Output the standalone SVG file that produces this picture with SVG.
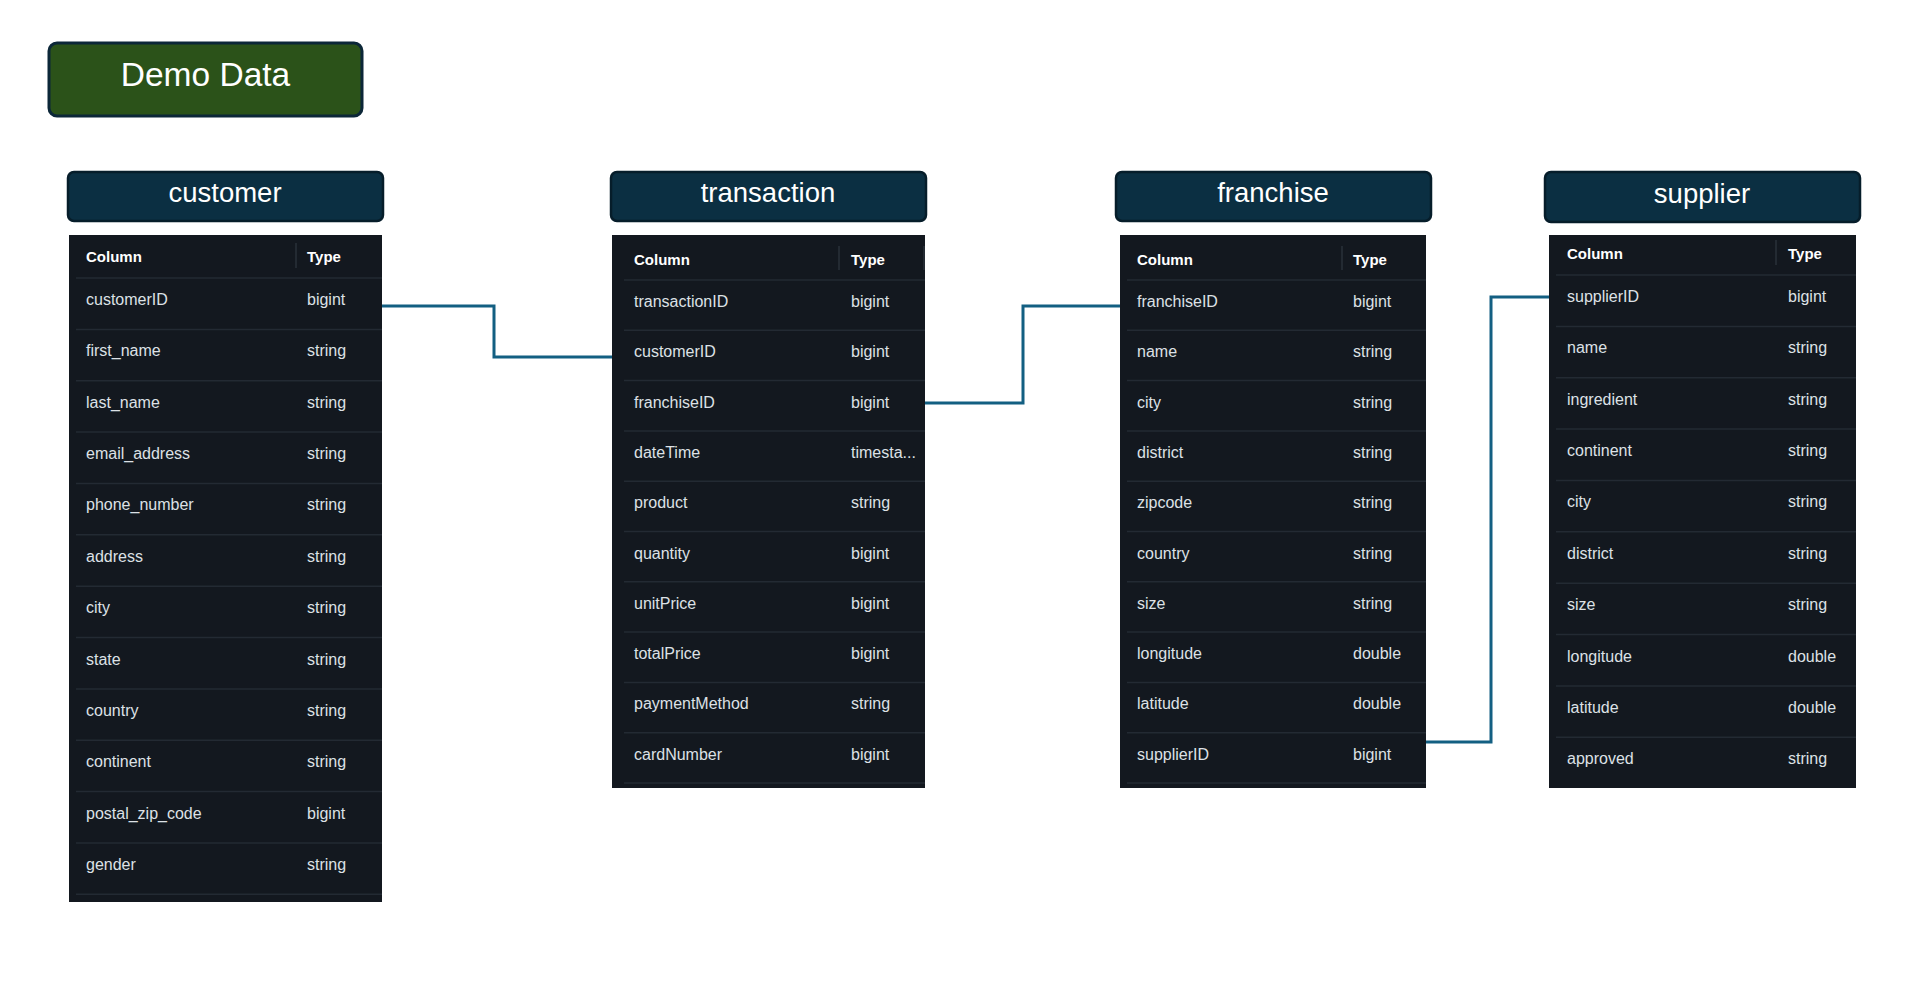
<svg xmlns="http://www.w3.org/2000/svg" width="1918" height="990" viewBox="0 0 1918 990">
<style>
.bg{fill:#ffffff}
.title{fill:#0b2f42;stroke:#061d2a;stroke-width:2.5}
.titletxt{font-family:"Liberation Sans",Arial,sans-serif;font-size:27.5px;fill:#ffffff;text-anchor:middle}
.tbl{fill:#13181f}
.sep{stroke:#232a33;stroke-width:1.5}
.csep{stroke:#2a313a;stroke-width:1.5}
.hd{font-family:"Liberation Sans",Arial,sans-serif;font-size:15px;font-weight:bold;fill:#ffffff}
.cell{font-family:"Liberation Sans",Arial,sans-serif;font-size:16px;fill:#dde1e6}
.conn{fill:none;stroke:#135f82;stroke-width:3}
</style>
<rect class="bg" x="0" y="0" width="1918" height="990"/>

<g id="demo-data">
<rect x="49" y="43" width="313" height="73" rx="8" fill="#2b5219" stroke="#0c2738" stroke-width="3"/>
<text x="205.5" y="86" font-family="'Liberation Sans',Arial,sans-serif" font-size="33.5" fill="#ffffff" text-anchor="middle">Demo Data</text>
</g>

<g id="customer">
<rect class="title" x="68" y="172" width="315" height="49" rx="6"/>
<text class="titletxt" x="225" y="202">customer</text>
<rect class="tbl" x="69" y="235" width="313" height="667"/>
<line class="csep" x1="296" y1="243" x2="296" y2="268"/>
<text class="hd" x="86" y="262">Column</text>
<text class="hd" x="307" y="262">Type</text>
<g class="sep">
<line x1="76" y1="278" x2="382" y2="278"/>
<line x1="76" y1="329.4" x2="382" y2="329.4"/>
<line x1="76" y1="380.7" x2="382" y2="380.7"/>
<line x1="76" y1="432.1" x2="382" y2="432.1"/>
<line x1="76" y1="483.4" x2="382" y2="483.4"/>
<line x1="76" y1="534.8" x2="382" y2="534.8"/>
<line x1="76" y1="586.2" x2="382" y2="586.2"/>
<line x1="76" y1="637.5" x2="382" y2="637.5"/>
<line x1="76" y1="688.9" x2="382" y2="688.9"/>
<line x1="76" y1="740.2" x2="382" y2="740.2"/>
<line x1="76" y1="791.6" x2="382" y2="791.6"/>
<line x1="76" y1="843" x2="382" y2="843"/>
<line x1="76" y1="894.3" x2="382" y2="894.3"/>
</g>
<text class="cell" x="86" y="305">customerID</text><text class="cell" x="307" y="305">bigint</text>
<text class="cell" x="86" y="356.4">first_name</text><text class="cell" x="307" y="356.4">string</text>
<text class="cell" x="86" y="407.7">last_name</text><text class="cell" x="307" y="407.7">string</text>
<text class="cell" x="86" y="459.1">email_address</text><text class="cell" x="307" y="459.1">string</text>
<text class="cell" x="86" y="510.4">phone_number</text><text class="cell" x="307" y="510.4">string</text>
<text class="cell" x="86" y="561.8">address</text><text class="cell" x="307" y="561.8">string</text>
<text class="cell" x="86" y="613.2">city</text><text class="cell" x="307" y="613.2">string</text>
<text class="cell" x="86" y="664.5">state</text><text class="cell" x="307" y="664.5">string</text>
<text class="cell" x="86" y="715.9">country</text><text class="cell" x="307" y="715.9">string</text>
<text class="cell" x="86" y="767.2">continent</text><text class="cell" x="307" y="767.2">string</text>
<text class="cell" x="86" y="818.6">postal_zip_code</text><text class="cell" x="307" y="818.6">bigint</text>
<text class="cell" x="86" y="870">gender</text><text class="cell" x="307" y="870">string</text>
</g>

<g id="transaction">
<rect class="title" x="611" y="172" width="315" height="49" rx="6"/>
<text class="titletxt" x="768" y="202">transaction</text>
<rect class="tbl" x="612" y="235" width="313" height="553"/>
<line class="csep" x1="839" y1="246" x2="839" y2="270"/>
<line class="csep" x1="924" y1="246" x2="924" y2="270"/>
<text class="hd" x="634" y="265">Column</text>
<text class="hd" x="851" y="265">Type</text>
<g class="sep">
<line x1="624" y1="280" x2="925" y2="280"/>
<line x1="624" y1="330.3" x2="925" y2="330.3"/>
<line x1="624" y1="380.6" x2="925" y2="380.6"/>
<line x1="624" y1="430.9" x2="925" y2="430.9"/>
<line x1="624" y1="481.2" x2="925" y2="481.2"/>
<line x1="624" y1="531.5" x2="925" y2="531.5"/>
<line x1="624" y1="581.8" x2="925" y2="581.8"/>
<line x1="624" y1="632.1" x2="925" y2="632.1"/>
<line x1="624" y1="682.4" x2="925" y2="682.4"/>
<line x1="624" y1="732.7" x2="925" y2="732.7"/>
<line x1="624" y1="783" x2="925" y2="783"/>
</g>
<text class="cell" x="634" y="307">transactionID</text><text class="cell" x="851" y="307">bigint</text>
<text class="cell" x="634" y="357.3">customerID</text><text class="cell" x="851" y="357.3">bigint</text>
<text class="cell" x="634" y="407.6">franchiseID</text><text class="cell" x="851" y="407.6">bigint</text>
<text class="cell" x="634" y="457.9">dateTime</text><text class="cell" x="851" y="457.9">timesta...</text>
<text class="cell" x="634" y="508.2">product</text><text class="cell" x="851" y="508.2">string</text>
<text class="cell" x="634" y="558.5">quantity</text><text class="cell" x="851" y="558.5">bigint</text>
<text class="cell" x="634" y="608.8">unitPrice</text><text class="cell" x="851" y="608.8">bigint</text>
<text class="cell" x="634" y="659.1">totalPrice</text><text class="cell" x="851" y="659.1">bigint</text>
<text class="cell" x="634" y="709.4">paymentMethod</text><text class="cell" x="851" y="709.4">string</text>
<text class="cell" x="634" y="759.7">cardNumber</text><text class="cell" x="851" y="759.7">bigint</text>
</g>

<g id="franchise">
<rect class="title" x="1116" y="172" width="315" height="49" rx="6"/>
<text class="titletxt" x="1273" y="202">franchise</text>
<rect class="tbl" x="1120" y="235" width="306" height="553"/>
<line class="csep" x1="1342" y1="246" x2="1342" y2="270"/>
<text class="hd" x="1137" y="265">Column</text>
<text class="hd" x="1353" y="265">Type</text>
<g class="sep">
<line x1="1127" y1="280" x2="1426" y2="280"/>
<line x1="1127" y1="330.3" x2="1426" y2="330.3"/>
<line x1="1127" y1="380.6" x2="1426" y2="380.6"/>
<line x1="1127" y1="430.9" x2="1426" y2="430.9"/>
<line x1="1127" y1="481.2" x2="1426" y2="481.2"/>
<line x1="1127" y1="531.5" x2="1426" y2="531.5"/>
<line x1="1127" y1="581.8" x2="1426" y2="581.8"/>
<line x1="1127" y1="632.1" x2="1426" y2="632.1"/>
<line x1="1127" y1="682.4" x2="1426" y2="682.4"/>
<line x1="1127" y1="732.7" x2="1426" y2="732.7"/>
<line x1="1127" y1="783" x2="1426" y2="783"/>
</g>
<text class="cell" x="1137" y="307">franchiseID</text><text class="cell" x="1353" y="307">bigint</text>
<text class="cell" x="1137" y="357.3">name</text><text class="cell" x="1353" y="357.3">string</text>
<text class="cell" x="1137" y="407.6">city</text><text class="cell" x="1353" y="407.6">string</text>
<text class="cell" x="1137" y="457.9">district</text><text class="cell" x="1353" y="457.9">string</text>
<text class="cell" x="1137" y="508.2">zipcode</text><text class="cell" x="1353" y="508.2">string</text>
<text class="cell" x="1137" y="558.5">country</text><text class="cell" x="1353" y="558.5">string</text>
<text class="cell" x="1137" y="608.8">size</text><text class="cell" x="1353" y="608.8">string</text>
<text class="cell" x="1137" y="659.1">longitude</text><text class="cell" x="1353" y="659.1">double</text>
<text class="cell" x="1137" y="709.4">latitude</text><text class="cell" x="1353" y="709.4">double</text>
<text class="cell" x="1137" y="759.7">supplierID</text><text class="cell" x="1353" y="759.7">bigint</text>
</g>

<g id="supplier">
<rect class="title" x="1545" y="172" width="315" height="50" rx="6"/>
<text class="titletxt" x="1702" y="203">supplier</text>
<rect class="tbl" x="1549" y="235" width="307" height="553"/>
<line class="csep" x1="1776" y1="240" x2="1776" y2="265"/>
<text class="hd" x="1567" y="259">Column</text>
<text class="hd" x="1788" y="259">Type</text>
<g class="sep">
<line x1="1556" y1="275" x2="1856" y2="275"/>
<line x1="1556" y1="326.4" x2="1856" y2="326.4"/>
<line x1="1556" y1="377.7" x2="1856" y2="377.7"/>
<line x1="1556" y1="429.1" x2="1856" y2="429.1"/>
<line x1="1556" y1="480.4" x2="1856" y2="480.4"/>
<line x1="1556" y1="531.8" x2="1856" y2="531.8"/>
<line x1="1556" y1="583.2" x2="1856" y2="583.2"/>
<line x1="1556" y1="634.5" x2="1856" y2="634.5"/>
<line x1="1556" y1="685.9" x2="1856" y2="685.9"/>
<line x1="1556" y1="737.2" x2="1856" y2="737.2"/>
</g>
<text class="cell" x="1567" y="302">supplierID</text><text class="cell" x="1788" y="302">bigint</text>
<text class="cell" x="1567" y="353.4">name</text><text class="cell" x="1788" y="353.4">string</text>
<text class="cell" x="1567" y="404.7">ingredient</text><text class="cell" x="1788" y="404.7">string</text>
<text class="cell" x="1567" y="456.1">continent</text><text class="cell" x="1788" y="456.1">string</text>
<text class="cell" x="1567" y="507.4">city</text><text class="cell" x="1788" y="507.4">string</text>
<text class="cell" x="1567" y="558.8">district</text><text class="cell" x="1788" y="558.8">string</text>
<text class="cell" x="1567" y="610.2">size</text><text class="cell" x="1788" y="610.2">string</text>
<text class="cell" x="1567" y="661.5">longitude</text><text class="cell" x="1788" y="661.5">double</text>
<text class="cell" x="1567" y="712.9">latitude</text><text class="cell" x="1788" y="712.9">double</text>
<text class="cell" x="1567" y="764.2">approved</text><text class="cell" x="1788" y="764.2">string</text>
</g>

<g id="connectors">
<path class="conn" d="M382,306 H494 V357 H612"/>
<path class="conn" d="M925,403 H1023 V306 H1120"/>
<path class="conn" d="M1426,742 H1491 V297 H1549"/>
</g>
</svg>
